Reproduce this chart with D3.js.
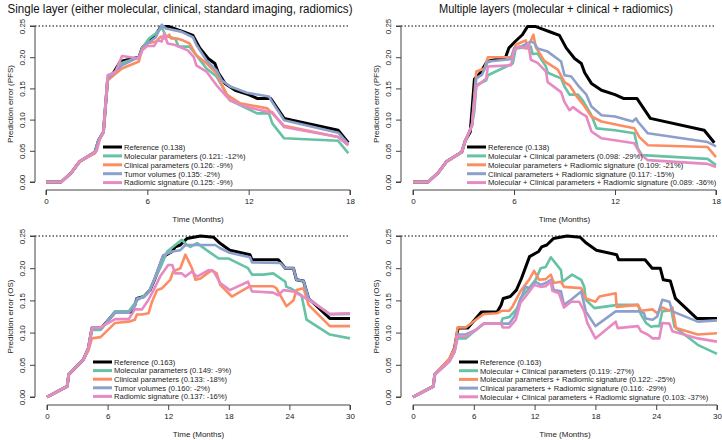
<!DOCTYPE html>
<html><head><meta charset="utf-8">
<script src="https://cdn.jsdelivr.net/npm/d3@7"></script>
<style>
body{margin:0;background:#fff;}
svg{display:block;font-family:"Liberation Sans",Arial,sans-serif;}
</style></head>
<body><svg id="c" width="722" height="440"></svg>
<script>
// ---------- DATA ----------
const colors = ["#000000", "#66C2A5", "#FC8D62", "#8DA0CB", "#E78AC3"];
const xTicksPFS = [0, 6, 12, 18];
const xTicksOS = [0, 6, 12, 18, 24, 30];
const yTicks = ["0.00", "0.05", "0.10", "0.15", "0.20", "0.25"];
const titleSingle = "Single layer (either molecular, clinical, standard imaging, radiomics)";
const titleMultiple = "Multiple layers (molecular + clinical + radiomics)";
const legendSinglePFS = ["Reference (0.138)", "Molecular parameters (0.121: -12%)", "Clinical parameters (0.126: -9%)", "Tumor volumes (0.135: -2%)", "Radiomic signature (0.125: -9%)"];
const legendMultiPFS = ["Reference (0.138)", "Molecular + Clinical parameters (0.098: -29%)", "Molecular parameters + Radiomic signature (0.109: -21%)", "Clinical parameters + Radiomic signature (0.117: -15%)", "Molecular + Clinical parameters + Radiomic signature (0.089: -36%)"];
const legendSingleOS = ["Reference (0.163)", "Molecular parameters (0.149: -9%)", "Clinical parameters (0.133: -18%)", "Tumor volumes (0.160: -2%)", "Radiomic signature (0.137: -16%)"];
const legendMultiOS = ["Reference (0.163)", "Molecular + Clinical parameters (0.119: -27%)", "Molecular parameters + Radiomic signature (0.122: -25%)", "Clinical parameters + Radiomic signature (0.116: -29%)", "Molecular + Clinical parameters + Radiomic signature (0.103: -37%)"];

// PFS, [time (months), prediction error]
const pfsReference = [[0,0],[0.9,0],[1.5,0.015],[2,0.033],[2.9,0.048],[3.1,0.066],[3.4,0.08],[3.65,0.165],[4.0,0.175],[4.4,0.193],[5.5,0.2],[5.7,0.215],[6.1,0.226],[6.5,0.236],[6.8,0.249],[7.3,0.249],[7.7,0.245],[8.2,0.24],[8.7,0.235],[8.9,0.225],[9.1,0.215],[9.6,0.198],[10.0,0.19],[10.2,0.175],[10.6,0.158],[11.2,0.147],[12,0.14],[12.5,0.134],[13.3,0.134],[13.5,0.126],[14.1,0.102],[17.3,0.083],[17.9,0.063]];
const pfsMolecular = [[0,0],[0.9,0],[1.5,0.015],[2,0.033],[2.9,0.048],[3.1,0.066],[3.4,0.08],[3.65,0.163],[4.0,0.172],[4.4,0.19],[5.5,0.2],[5.7,0.215],[6.1,0.23],[6.5,0.238],[6.85,0.248],[7.1,0.234],[7.65,0.23],[7.85,0.217],[8.5,0.217],[8.9,0.203],[9.5,0.182],[10.1,0.169],[10.5,0.15],[10.9,0.131],[12.5,0.11],[13.2,0.11],[13.4,0.094],[14.1,0.07],[17.3,0.066],[17.9,0.046]];
const pfsClinical = [[0,0],[0.9,0],[1.5,0.015],[2,0.033],[2.9,0.046],[3.1,0.064],[3.4,0.08],[3.65,0.163],[4.5,0.182],[5.5,0.193],[5.7,0.214],[6.0,0.222],[6.5,0.225],[6.8,0.233],[7.0,0.23],[7.3,0.236],[7.4,0.23],[7.75,0.23],[8.1,0.227],[8.5,0.222],[8.9,0.203],[9.5,0.19],[10.1,0.174],[10.7,0.14],[11.5,0.126],[13.1,0.118],[13.4,0.11],[14.1,0.09],[17.3,0.072],[17.9,0.059]];
const pfsTumor = [[0,0],[0.9,0],[1.5,0.015],[2,0.033],[2.9,0.048],[3.1,0.066],[3.4,0.08],[3.65,0.166],[4.5,0.187],[5.5,0.2],[5.7,0.213],[6.0,0.222],[6.5,0.232],[6.85,0.252],[7.1,0.246],[8,0.241],[8.7,0.232],[8.9,0.22],[9.5,0.195],[10.1,0.179],[10.4,0.163],[10.9,0.153],[11.9,0.143],[13.2,0.137],[13.4,0.128],[14.1,0.099],[17.3,0.079],[17.9,0.061]];
const pfsRadiomic = [[0,0],[0.9,0],[1.5,0.015],[2,0.033],[3.0,0.05],[3.2,0.07],[3.4,0.08],[3.65,0.171],[4.1,0.176],[4.5,0.202],[5.5,0.198],[5.7,0.211],[6.0,0.218],[6.4,0.218],[6.6,0.227],[6.85,0.225],[7.0,0.238],[7.2,0.222],[7.6,0.22],[8.4,0.211],[8.75,0.2],[8.9,0.187],[9.5,0.177],[10.1,0.155],[10.9,0.131],[11.9,0.12],[13.2,0.112],[13.4,0.112],[14.1,0.088],[17.3,0.072],[17.9,0.059]];
const pfsMolClin = [[0,0],[0.9,0],[1.5,0.015],[2,0.033],[2.9,0.048],[3.1,0.064],[3.5,0.09],[3.65,0.115],[3.76,0.155],[4.35,0.163],[4.45,0.171],[5.93,0.19],[6.1,0.214],[7.0,0.217],[7.1,0.205],[7.4,0.206],[7.9,0.185],[8.0,0.175],[8.8,0.166],[9.0,0.153],[9.3,0.14],[9.8,0.14],[10.1,0.13],[10.6,0.107],[10.9,0.086],[12,0.083],[13.15,0.078],[13.35,0.054],[13.6,0.043],[17.5,0.037],[18,0.027]];
const pfsMolRad = [[0,0],[0.9,0],[1.5,0.015],[2,0.033],[2.9,0.048],[3.1,0.066],[3.5,0.09],[3.76,0.177],[4.25,0.182],[4.45,0.2],[5.83,0.2],[6.1,0.22],[6.7,0.227],[6.8,0.214],[7.15,0.236],[7.3,0.216],[7.8,0.194],[8.6,0.18],[9.0,0.16],[9.3,0.155],[9.5,0.147],[9.7,0.138],[10.2,0.121],[10.6,0.105],[11.2,0.097],[12.4,0.09],[13.15,0.086],[13.45,0.072],[13.95,0.059],[17.5,0.056],[18,0.04]];
const pfsClinRad = [[0,0],[0.9,0],[1.5,0.015],[2,0.033],[2.9,0.048],[3.1,0.066],[3.5,0.09],[3.76,0.166],[4.1,0.172],[4.45,0.193],[5.83,0.197],[6.0,0.214],[6.4,0.217],[7.0,0.225],[7.2,0.223],[7.4,0.214],[8.0,0.209],[8.8,0.193],[9.0,0.171],[9.4,0.169],[9.8,0.155],[10.3,0.14],[10.6,0.121],[11.2,0.107],[12,0.105],[13.05,0.097],[13.25,0.102],[13.35,0.097],[13.95,0.078],[17.5,0.064],[18,0.057]];
const pfsMolClinRad = [[0,0],[0.9,0],[1.5,0.015],[2,0.033],[2.9,0.048],[3.1,0.066],[3.5,0.09],[3.76,0.153],[4.35,0.166],[4.45,0.185],[5.83,0.187],[6.0,0.211],[6.3,0.217],[6.7,0.214],[6.85,0.222],[7.0,0.196],[7.4,0.191],[7.9,0.177],[8.0,0.16],[8.8,0.144],[9.0,0.128],[9.3,0.115],[9.5,0.12],[10.0,0.11],[10.3,0.105],[10.6,0.081],[11.2,0.07],[13.15,0.062],[13.5,0.045],[13.95,0.035],[17.5,0.029],[18,0.024]];

// OS
const osReference = [[0,0],[2,0.0165],[2.15,0.035],[3.6,0.058],[4.1,0.076],[4.45,0.107],[5.4,0.107],[6.75,0.132],[8.3,0.132],[8.7,0.143],[8.9,0.153],[9.6,0.156],[10.2,0.166],[10.7,0.184],[11.5,0.218],[12.4,0.226],[12.7,0.233],[13.2,0.236],[13.85,0.246],[15.2,0.25],[16.5,0.248],[17.1,0.239],[18.1,0.228],[20.1,0.221],[20.3,0.213],[22.9,0.213],[23.6,0.2],[24.4,0.2],[24.7,0.182],[25.4,0.18],[25.9,0.153],[28,0.122],[30,0.122]];
const osMolecular = [[0,0],[2,0.0165],[2.15,0.035],[3.6,0.058],[4.1,0.076],[4.45,0.104],[5.3,0.104],[6.75,0.133],[8.1,0.133],[8.9,0.15],[10,0.161],[10.7,0.184],[11.2,0.2],[11.9,0.226],[12.7,0.236],[13.35,0.244],[13.85,0.236],[14.2,0.233],[14.85,0.239],[15.8,0.228],[17,0.215],[18,0.215],[19.9,0.2],[20.3,0.19],[21.4,0.19],[22.4,0.192],[23.6,0.179],[23.7,0.171],[24.1,0.169],[25.2,0.158],[25.7,0.12],[28,0.097],[30,0.091]];
const osClinical = [[0,0],[2,0.0165],[2.15,0.035],[3.6,0.058],[4.1,0.072],[4.45,0.091],[5.3,0.093],[6.75,0.115],[8.1,0.117],[8.7,0.12],[8.9,0.128],[9.4,0.128],[10.05,0.13],[10.4,0.148],[10.9,0.166],[11.4,0.169],[12.2,0.182],[12.5,0.195],[13.2,0.2],[13.7,0.221],[14.35,0.2],[14.7,0.182],[15.2,0.184],[16.3,0.197],[16.8,0.192],[17.15,0.174],[18.3,0.156],[20.1,0.172],[22.4,0.172],[22.7,0.169],[23.7,0.141],[24.4,0.15],[24.7,0.166],[25.4,0.169],[25.9,0.143],[28,0.11],[30,0.11]];
const osTumor = [[0,0],[2,0.0165],[2.15,0.035],[3.6,0.058],[4.1,0.076],[4.45,0.107],[5.4,0.107],[6.75,0.131],[8.1,0.131],[8.7,0.141],[8.9,0.153],[9.6,0.155],[10.2,0.166],[10.7,0.186],[11.5,0.22],[12.4,0.226],[13.2,0.228],[13.7,0.236],[16.65,0.236],[17.15,0.231],[18.1,0.224],[20.1,0.217],[20.3,0.209],[23.1,0.208],[23.6,0.2],[24.4,0.2],[24.7,0.182],[25.4,0.18],[25.9,0.153],[28,0.128],[30,0.129]];
const osRadiomic = [[0,0],[2,0.0165],[2.15,0.035],[3.6,0.058],[4.1,0.076],[4.45,0.108],[5.3,0.108],[6.75,0.121],[8.1,0.121],[8.7,0.136],[9.4,0.136],[10.05,0.151],[10.55,0.166],[11.2,0.187],[12.0,0.205],[12.4,0.205],[12.7,0.192],[13.35,0.192],[13.7,0.187],[14.35,0.195],[14.85,0.187],[16,0.197],[16.5,0.195],[17.15,0.177],[18.1,0.166],[19.9,0.179],[20.3,0.164],[22.4,0.162],[22.9,0.158],[23.4,0.166],[24.4,0.164],[25.2,0.157],[25.9,0.151],[28,0.129],[30,0.13]];
const osMolClin = [[0,0],[2,0.0165],[2.15,0.035],[3.6,0.056],[4.1,0.072],[4.4,0.091],[5.2,0.091],[6.2,0.104],[7,0.114],[8.7,0.115],[8.85,0.122],[9.5,0.124],[10.3,0.138],[10.6,0.153],[11.3,0.166],[12.1,0.182],[12.6,0.2],[13.1,0.202],[13.6,0.217],[14.6,0.197],[14.75,0.179],[15.7,0.19],[16.6,0.182],[16.9,0.171],[17.05,0.151],[17.9,0.138],[20.2,0.143],[22.2,0.143],[22.5,0.128],[23,0.115],[23.5,0.109],[23.8,0.11],[24.3,0.11],[24.6,0.133],[25.5,0.135],[25.8,0.109],[28.1,0.081],[30,0.067]];
const osMolRad = [[0,0],[2,0.0165],[2.15,0.035],[3.6,0.06],[4.1,0.076],[4.4,0.108],[5.2,0.108],[6.2,0.12],[7,0.129],[8.3,0.13],[8.8,0.134],[9.5,0.134],[9.8,0.14],[10.6,0.164],[11.45,0.182],[11.95,0.196],[12.45,0.182],[13.1,0.183],[13.6,0.19],[13.9,0.177],[14.6,0.179],[14.9,0.171],[16.6,0.169],[17.05,0.153],[18,0.148],[18.4,0.156],[20,0.161],[20.1,0.14],[22.2,0.143],[22.5,0.134],[23.65,0.136],[24.1,0.13],[24.6,0.139],[25.3,0.134],[25.6,0.139],[25.95,0.107],[28.1,0.097],[30,0.099]];
const osClinRad = [[0,0],[2,0.0165],[2.15,0.035],[3.6,0.055],[4.1,0.07],[4.4,0.097],[5.2,0.097],[6.2,0.104],[7,0.114],[8.7,0.114],[9.5,0.114],[10,0.125],[10.6,0.151],[11.1,0.171],[11.6,0.169],[12.1,0.179],[12.6,0.174],[13.1,0.177],[13.6,0.182],[13.9,0.166],[14.6,0.164],[14.9,0.143],[15.6,0.151],[16.6,0.164],[17.05,0.133],[18,0.11],[20,0.133],[22.2,0.133],[22.8,0.13],[22.95,0.122],[23.65,0.12],[24.1,0.125],[24.6,0.151],[25.3,0.148],[25.6,0.133],[28.1,0.117],[30,0.119]];
const osMolClinRad = [[0,0],[2,0.0165],[2.15,0.035],[3.6,0.056],[4.1,0.07],[4.4,0.094],[5.2,0.094],[6.2,0.104],[7,0.114],[8.7,0.114],[8.85,0.108],[9.5,0.108],[10.15,0.12],[10.6,0.146],[11.3,0.16],[11.95,0.174],[12.6,0.171],[13.1,0.172],[13.6,0.179],[13.75,0.165],[14.4,0.161],[14.9,0.139],[15.6,0.148],[16.4,0.148],[16.9,0.133],[17.2,0.115],[18,0.091],[20,0.117],[20.2,0.107],[22.2,0.11],[22.5,0.102],[23.15,0.097],[23.65,0.091],[24.3,0.091],[24.6,0.115],[25.3,0.114],[25.6,0.102],[28.1,0.091],[30,0.086]];

// ---------- DRAW ----------
const svg = d3.select("#c");
const textColor = "#222";
const axisColor = "#444";
const fontFam = "Liberation Sans, Arial, sans-serif";

function panel(cfg) {
  const x = d3.scaleLinear().domain([0, cfg.xMax]).range([cfg.x0, cfg.x1]);
  const y = d3.scaleLinear().domain([0, 0.25]).range([cfg.y0, cfg.y1]);
  const g = svg.append("g");

  // dotted reference line at 0.25
  g.append("line").attr("x1", cfg.axisX).attr("x2", x(cfg.xMax))
    .attr("y1", y(0.25)).attr("y2", y(0.25))
    .attr("stroke", "#000").attr("stroke-width", 1).attr("stroke-dasharray", "1.5,2");

  // y axis
  const ya = g.append("g").attr("transform", `translate(${cfg.axisX},0)`)
    .call(d3.axisLeft(y).tickValues(yTicks.map(Number)).tickFormat((d, i) => yTicks[i]).tickSize(5));
  ya.select(".domain").attr("stroke", axisColor).attr("d", `M-5,${y(0)}H0V${y(0.25)}H-5`);
  ya.selectAll(".tick line").attr("stroke", axisColor);
  ya.selectAll(".tick text").attr("fill", textColor).attr("font-size", 8)
    .attr("font-family", fontFam)
    .attr("text-anchor", "middle").attr("dy", 0)
    .attr("x", 0).attr("y", -10).attr("transform", "rotate(-90)");

  // x axis
  const xa = g.append("g").attr("transform", `translate(0,${cfg.axisY})`)
    .call(d3.axisBottom(x).tickValues(cfg.xTicks).tickFormat(d3.format("d")).tickSize(5).tickPadding(3));
  xa.select(".domain").attr("stroke", axisColor).attr("d", `M${x(0)},5V0H${x(cfg.xMax)}V5`);
  xa.selectAll(".tick line").attr("stroke", axisColor);
  xa.selectAll(".tick text").attr("fill", textColor).attr("font-size", 8)
    .attr("font-family", fontFam);

  // axis titles
  g.append("text").attr("x", (x(0) + x(cfg.xMax)) / 2).attr("y", cfg.axisY + 32)
    .attr("text-anchor", "middle").attr("font-size", 8).attr("fill", textColor).text("Time (Months)");
  g.append("text").attr("transform", `translate(${cfg.axisX - 22},${(y(0) + y(0.25)) / 2}) rotate(-90)`)
    .attr("text-anchor", "middle").attr("font-size", 8).attr("fill", textColor).text(cfg.yLabel);

  if (cfg.title) {
    g.append("text").attr("x", cfg.titleX).attr("y", 13).attr("text-anchor", "middle")
      .attr("font-size", 12).attr("fill", "#111")
      .attr("textLength", cfg.titleW).attr("lengthAdjust", "spacingAndGlyphs")
      .text(cfg.title);
  }

  // series lines
  const line = d3.line().x(d => x(d[0])).y(d => y(d[1]));
  g.append("g").selectAll("path").data(cfg.series).join("path")
    .attr("d", line).attr("fill", "none")
    .attr("stroke", (d, i) => colors[i]).attr("stroke-width", (d, i) => i === 0 ? 3 : 2.6)
    .attr("stroke-linejoin", "round").attr("stroke-linecap", "butt");

  // legend
  const lg = g.append("g");
  cfg.legend.forEach((label, i) => {
    const yy = cfg.legY + i * cfg.legDy;
    lg.append("line").attr("x1", cfg.legX).attr("x2", cfg.legX + 19)
      .attr("y1", yy).attr("y2", yy).attr("stroke", colors[i]).attr("stroke-width", 3);
    lg.append("text").attr("x", cfg.legX + 21).attr("y", yy + 2.8).attr("font-size", 7.6)
      .attr("fill", textColor).text(label);
  });
}

panel({ x0: 46, x1: 350, y0: 182, y1: 26, axisX: 35, axisY: 190, xMax: 18, xTicks: xTicksPFS,
  yLabel: "Prediction error (PFS)", title: titleSingle, titleX: 180, titleW: 345,
  series: [pfsReference, pfsMolecular, pfsClinical, pfsTumor, pfsRadiomic],
  legend: legendSinglePFS, legX: 103, legY: 147, legDy: 8.9 });
panel({ x0: 413, x1: 716, y0: 182, y1: 26, axisX: 401, axisY: 190, xMax: 18, xTicks: xTicksPFS,
  yLabel: "Prediction error (PFS)", title: titleMultiple, titleX: 556, titleW: 234,
  series: [pfsReference, pfsMolClin, pfsMolRad, pfsClinRad, pfsMolClinRad],
  legend: legendMultiPFS, legX: 467, legY: 147, legDy: 8.9 });
panel({ x0: 47, x1: 350, y0: 397, y1: 236, axisX: 35, axisY: 405, xMax: 30, xTicks: xTicksOS,
  yLabel: "Prediction error (OS)",
  series: [osReference, osMolecular, osClinical, osTumor, osRadiomic],
  legend: legendSingleOS, legX: 93, legY: 362, legDy: 8.6 });
panel({ x0: 413, x1: 717, y0: 397, y1: 236, axisX: 401, axisY: 405, xMax: 30, xTicks: xTicksOS,
  yLabel: "Prediction error (OS)",
  series: [osReference, osMolClin, osMolRad, osClinRad, osMolClinRad],
  legend: legendMultiOS, legX: 459, legY: 362, legDy: 8.7 });
</script>
</body></html>
